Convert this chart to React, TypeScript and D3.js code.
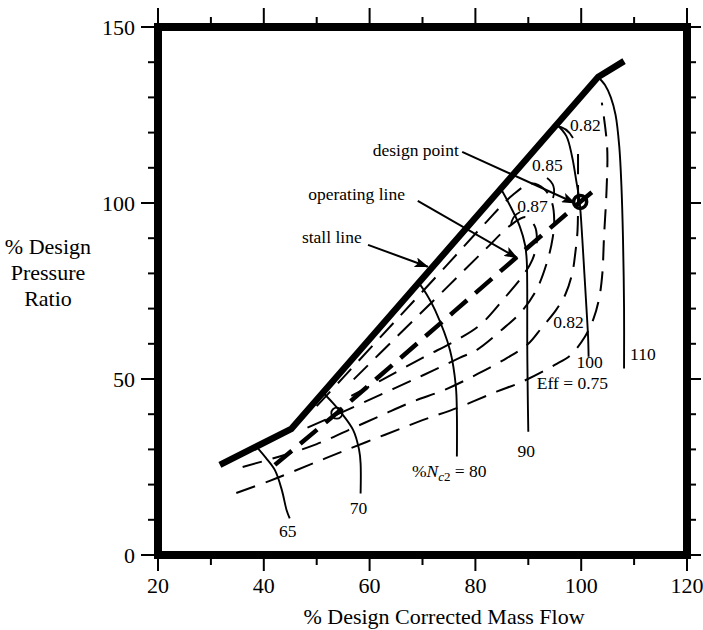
import React from 'react';
import * as d3 from 'd3';

type P = [number, number];

// Axis ticks
const xTickValues = [20, 40, 60, 80, 100, 120];
const yTickValues = [0, 50, 100, 150];
const xMinor = [20, 30, 40, 50, 60, 70, 80, 90, 100, 110, 120];
const yMinor = [0, 10, 20, 30, 40, 50, 60, 70, 80, 90, 100, 110, 120, 130, 140, 150];

// Stall line and operating line (% mass flow, % pressure ratio)
const stallLine: P[] = [[31.7, 25.6], [45.2, 35.8], [103.2, 135.8], [108.1, 140.3]];
const operatingLine: P[] = [[42.1, 25.6], [53.8, 40.3], [76, 69.2], [99.8, 100.3], [103.2, 104.5]];
const lowPoint: P = [53.8, 40.3];
const designPoint: P = [99.8, 100.3];

// Corrected speed lines
const speedNames = ['65', '70', '80', '90', '100', '110'];
const speed65: P[] = [[38.6, 30.8], [40.4, 27.6], [42.1, 24.1], [43.4, 18.5], [44.3, 12.8], [44.9, 10.4]];
const speed70: P[] = [[51.2, 46.1], [53, 43.3], [54.7, 40.3], [56.9, 35.5], [58, 30], [58.3, 26], [58.3, 17.5]];
const speed80: P[] = [[69.3, 77.3], [70.8, 74], [72.4, 69.5], [75.2, 58.2], [76.3, 48], [76.5, 40], [76.5, 28]];
const speed90: P[] = [[84.8, 104.1], [86.8, 98.5], [88.4, 93.3], [89.4, 88], [89.7, 83.8], [89.8, 75], [89.8, 60], [89.9, 45], [90, 35]];
const speed100: P[] = [[95.4, 122.3], [97.2, 119], [98.3, 113], [99.1, 106], [99.7, 100.3], [100.2, 90], [100.6, 80], [101, 70], [101.3, 62], [101.4, 56.3]];
const speed110: P[] = [[103.2, 135.8], [104.5, 133.5], [105.6, 130], [106.5, 125], [107.2, 116], [107.6, 105], [107.9, 90], [108.1, 70], [108.1, 53]];

// Efficiency contours
const eff87: P[] = [[57, 49.9], [65, 61.8], [75, 76.6], [82, 87], [86.5, 93.5], [89.5, 96], [91.2, 93.5], [91.6, 89], [90.8, 84], [88.8, 79], [85.5, 73], [81, 65.5], [77, 61.5], [70, 56], [62, 49.5], [55, 44]];
const eff85: P[] = [[50, 42.3], [55, 50.4], [65, 66.7], [75, 83], [82, 94.5], [87, 102.2], [90.5, 105.5], [93, 104], [94.5, 100], [94.9, 95], [94.6, 90], [93.7, 84], [91.6, 75.5], [88.8, 69.3], [85, 64], [80.3, 58.3], [77, 56], [70, 51], [62, 45.5], [54, 40], [48, 36]];
const eff82: P[] = [[36, 25], [43, 28], [50, 31.5], [56, 35.5], [62, 39.5], [68, 43.5], [74.3, 47], [80.5, 51.5], [86, 56], [90, 60], [92.5, 64.5], [95.2, 69.5], [97, 74], [98.3, 80], [98.9, 86], [99.3, 92], [99.4, 100], [99.4, 108], [99.4, 115]];
const eff75: P[] = [[34.8, 17.6], [41, 21], [48.6, 25.6], [55, 29.5], [62.8, 34.1], [70, 38.3], [76.6, 41.8], [84, 46.4], [88.8, 49.2], [95, 54], [98, 56.8], [100.7, 62], [102.3, 67], [103.4, 73], [104, 80], [104.3, 90], [104.8, 104], [104.9, 116], [103.9, 128.5]];

// Annotation texts and their anchors (data coordinates)
const effLabels = ['0.82', '0.85', '0.87', '0.82', 'Eff = 0.75'];
const effLabelAt: P[] = [[97.9, 120.5], [90.7, 109.1], [87.9, 97.4], [94.7, 64.5], [91.6, 47.2]];
const noteLabels = ['design point', 'operating line', 'stall line'];
const noteLabelAt: P[] = [[60.6, 113.4], [48.4, 100.9], [47.2, 88.6]];
const noteArrowFrom: P[] = [[77.5, 114.5], [69.1, 100.6], [59.7, 88.1]];
const noteArrowTo: P[] = [[98.8, 100], [87.9, 84.4], [71, 81.9]];

const FONT = "'Liberation Serif', 'Times New Roman', serif";

export default function App() {
  const W = 703;
  const H = 630;
  const x = d3.scaleLinear().domain([20, 120]).range([158, 687]);
  const y = d3.scaleLinear().domain([0, 150]).range([555, 27]);
  const smooth = d3.line<P>().x(d => x(d[0])).y(d => y(d[1])).curve(d3.curveCatmullRom.alpha(0.5));
  const straight = d3.line<P>().x(d => x(d[0])).y(d => y(d[1]));

  const speeds = [speed65, speed70, speed80, speed90, speed100, speed110];
  // label offsets (px) relative to end of each speed line
  const speedLabelOffset: { dx: number; dy: number; anchor: string }[] = [
    { dx: -2, dy: 19, anchor: 'middle' },
    { dx: -2, dy: 21, anchor: 'middle' },
    { dx: -45, dy: 21, anchor: 'start' },
    { dx: -2, dy: 25, anchor: 'middle' },
    { dx: 1, dy: 11, anchor: 'middle' },
    { dx: 6, dy: -8, anchor: 'start' },
  ];

  const frameLeft = x(20), frameRight = x(120), frameTop = y(150), frameBottom = y(0);
  const fw = 8;
  const half = fw / 2;

  return (
    <svg width={W} height={H} style={{ position: 'absolute', left: 0, top: 0, background: '#fff' }} fontFamily={FONT}>
      <defs>
        <marker id="arr" viewBox="0 0 14 10" refX="13" refY="5" markerWidth="14" markerHeight="10" markerUnits="userSpaceOnUse" orient="auto">
          <path d="M0,0 L14,5 L0,10 L3,5 z" fill="#000" />
        </marker>
      </defs>
      <rect x={0} y={0} width={W} height={H} fill="#fff" />

      {/* efficiency contours */}
      {[eff87, eff85, eff82, eff75].map((c, i) => (
        <path key={'e' + i} d={smooth(c) || ''} fill="none" stroke="#000" strokeWidth={2} strokeDasharray="20 11" />
      ))}

      {/* operating line */}
      <path d={straight(operatingLine) || ''} fill="none" stroke="#000" strokeWidth={4.5} strokeDasharray="22 11" />

      {/* speed lines */}
      {speeds.map((s, i) => (
        <path key={'s' + i} d={smooth(s) || ''} fill="none" stroke="#000" strokeWidth={1.9} />
      ))}

      {/* stall line */}
      <path d={straight(stallLine) || ''} fill="none" stroke="#000" strokeWidth={6.5} strokeLinejoin="miter" />

      {/* operating points */}
      <circle cx={x(lowPoint[0])} cy={y(lowPoint[1])} r={5.5} fill="none" stroke="#000" strokeWidth={1.8} />
      <circle cx={x(designPoint[0])} cy={y(designPoint[1])} r={6.5} fill="none" stroke="#000" strokeWidth={3.5} />

      {/* speed labels */}
      {speeds.map((s, i) => {
        const e = s[s.length - 1];
        const o = speedLabelOffset[i];
        const px = x(e[0]) + o.dx, py = y(e[1]) + o.dy;
        if (speedNames[i] === '80') {
          return (
            <text key={'sl' + i} x={px} y={py} fontSize={17.5} textAnchor="start">
              %<tspan fontStyle="italic">N</tspan>
              <tspan fontStyle="italic" fontSize={13} dy={4}>c</tspan>
              <tspan fontSize={13}>2</tspan>
              <tspan dy={-4}> = {speedNames[i]}</tspan>
            </text>
          );
        }
        return (
          <text key={'sl' + i} x={px} y={py} fontSize={17.5} textAnchor={o.anchor}>{speedNames[i]}</text>
        );
      })}

      {/* efficiency labels */}
      {effLabels.map((t, i) => (
        <text key={'el' + i} x={x(effLabelAt[i][0])} y={y(effLabelAt[i][1])} fontSize={17.5}>{t}</text>
      ))}
      {/* small leaders */}
      <path d="M556,126 Q567,127 573,138" fill="none" stroke="#000" strokeWidth={1.8} />
      <path d="M547,178 Q557,185 553,198" fill="none" stroke="#000" strokeWidth={1.8} />
      <path d="M511,225 Q512,216 520,212" fill="none" stroke="#000" strokeWidth={1.8} />

      {/* notes with arrows */}
      {noteLabels.map((t, i) => (
        <g key={'n' + i}>
          <text x={x(noteLabelAt[i][0])} y={y(noteLabelAt[i][1])} fontSize={17.5}>{t}</text>
          <line x1={x(noteArrowFrom[i][0])} y1={y(noteArrowFrom[i][1])} x2={x(noteArrowTo[i][0])} y2={y(noteArrowTo[i][1])}
            stroke="#000" strokeWidth={2} markerEnd="url(#arr)" />
        </g>
      ))}

      {/* frame */}
      <rect x={frameLeft} y={frameTop} width={frameRight - frameLeft} height={frameBottom - frameTop} fill="none" stroke="#000" strokeWidth={fw} />

      {/* ticks */}
      {xMinor.map(v => {
        const major = xTickValues.includes(v);
        return (
          <g key={'xt' + v}>
            <line x1={x(v)} x2={x(v)} y1={frameBottom + half} y2={frameBottom + half + (major ? 12 : 6)} stroke="#000" strokeWidth={2} />
            <line x1={x(v)} x2={x(v)} y1={frameTop - half} y2={frameTop - half - (major ? 15 : 6)} stroke="#000" strokeWidth={2} />
          </g>
        );
      })}
      {yMinor.map(v => {
        const major = yTickValues.includes(v);
        return (
          <g key={'yt' + v}>
            <line x1={frameLeft - half} x2={frameLeft - half - (major ? 13 : 6)} y1={y(v)} y2={y(v)} stroke="#000" strokeWidth={2} />
            <line x1={frameRight + half} x2={frameRight + half + (major ? 10 : 5)} y1={y(v)} y2={y(v)} stroke="#000" strokeWidth={2} />
          </g>
        );
      })}

      {/* tick labels */}
      {xTickValues.map(v => (
        <text key={'xl' + v} x={x(v)} y={593} fontSize={22} textAnchor="middle">{v}</text>
      ))}
      {yTickValues.map(v => (
        <text key={'yl' + v} x={135} y={y(v) + 7.5} fontSize={22} textAnchor="end">{v}</text>
      ))}

      {/* axis titles */}
      <text x={444} y={624} fontSize={22} textAnchor="middle">% Design Corrected Mass Flow</text>
      <text x={91} y={254} fontSize={22} textAnchor="end">% Design</text>
      <text x={48} y={280} fontSize={22} textAnchor="middle">Pressure</text>
      <text x={48} y={306} fontSize={22} textAnchor="middle">Ratio</text>
    </svg>
  );
}
